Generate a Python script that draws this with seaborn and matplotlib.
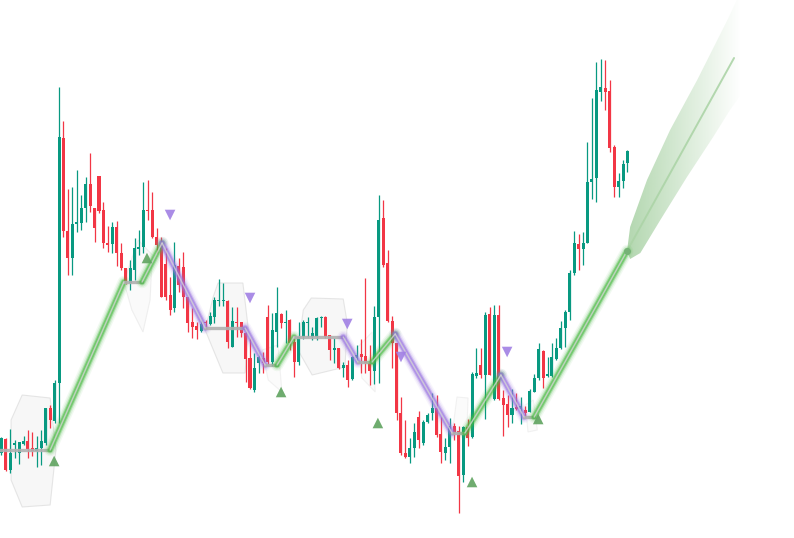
import numpy as np
import pandas as pd
import matplotlib
matplotlib.use("Agg")
import matplotlib.pyplot as plt
from matplotlib.patches import Polygon
from matplotlib.colors import to_rgb
import seaborn as sns

sns.set_theme(style="white")

# OHLC (bar index 0..141)
opens = [87, 101, 70, 95, 87, 96, 99, 92, 89, 92,
         97, 132, 119, 157, 402, 309, 282, 316, 317, 332,
         356, 332, 364, 330, 297, 296, 313, 287, 272, 257,
         270, 291, 293, 330, 330, 303, 296, 276, 245, 232,
         274, 273, 243, 218, 214, 209, 218, 216, 223, 239,
         239, 239, 193, 218, 218, 207, 182, 150, 177, 182,
         223, 178, 208, 226, 217, 220, 198, 178, 203, 217,
         203, 203, 222, 223, 205, 190, 192, 172, 175, 161,
         182, 186, 184, 177, 169, 223, 322, 277, 219, 197,
         127, 87, 83, 92, 123, 97, 118, 127, 132, 106,
         87, 93, 114, 109, 65, 113, 103, 164, 175, 165,
         226, 141, 225, 142, 136, 125, 133, 131, 130, 128,
         148, 162, 189, 164, 164, 181, 192, 212, 228, 267,
         296, 291, 297, 358, 362, 448, 452, 449, 393, 353,
         359, 377]
highs = [103, 102, 111, 100, 98, 104, 110, 108, 104, 110,
         132, 135, 160, 453, 419, 351, 353, 370, 345, 363,
         387, 332, 364, 338, 314, 318, 319, 297, 272, 280,
         302, 310, 358, 360, 348, 312, 303, 292, 263, 298,
         282, 288, 243, 232, 218, 220, 220, 228, 243, 261,
         257, 240, 233, 233, 218, 208, 202, 187, 187, 188,
         235, 227, 253, 227, 230, 221, 202, 218, 220, 223,
         213, 223, 224, 224, 205, 202, 192, 178, 180, 184,
         195, 201, 262, 195, 234, 345, 340, 290, 224, 197,
         143, 120, 102, 117, 129, 120, 127, 147, 145, 123,
         102, 122, 117, 114, 114, 121, 168, 192, 192, 228,
         233, 235, 235, 150, 145, 151, 147, 143, 134, 151,
         166, 197, 190, 183, 197, 202, 219, 230, 270, 309,
         306, 308, 398, 442, 478, 481, 480, 460, 395, 367,
         380, 390]
lows = [85, 69, 67, 82, 76, 95, 82, 84, 73, 75,
        95, 112, 117, 117, 303, 265, 265, 308, 310, 318,
        328, 298, 327, 292, 288, 287, 274, 270, 256, 250,
        260, 285, 287, 320, 302, 287, 243, 240, 225, 228,
        248, 232, 208, 202, 201, 208, 212, 215, 217, 234,
        234, 192, 193, 203, 203, 158, 151, 148, 167, 167,
        175, 174, 193, 212, 197, 190, 163, 175, 201, 203,
        200, 200, 213, 202, 180, 177, 171, 163, 153, 160,
        178, 167, 167, 155, 156, 157, 273, 218, 172, 120,
        85, 82, 77, 83, 92, 95, 117, 120, 103, 77,
        80, 77, 100, 27, 58, 94, 102, 162, 162, 121,
        165, 140, 140, 104, 113, 117, 130, 116, 123, 128,
        148, 160, 152, 163, 163, 180, 191, 193, 220, 265,
        270, 275, 297, 341, 338, 439, 430, 388, 343, 343,
        352, 368]
closes = [102, 70, 87, 97, 98, 99, 91, 89, 92, 99,
          132, 120, 157, 403, 309, 282, 316, 318, 332, 356,
          334, 312, 329, 297, 295, 313, 287, 272, 257, 272,
          292, 293, 330, 329, 303, 295, 243, 243, 230, 275,
          255, 243, 217, 213, 210, 216, 217, 224, 240, 240,
          240, 198, 219, 217, 207, 181, 152, 172, 183, 177,
          178, 210, 227, 217, 218, 197, 178, 203, 218, 218,
          207, 222, 223, 203, 190, 192, 172, 175, 160, 183,
          185, 183, 177, 169, 223, 320, 275, 219, 197, 127,
          87, 83, 92, 108, 100, 118, 125, 132, 105, 88,
          93, 114, 107, 64, 113, 102, 166, 167, 165, 225,
          165, 225, 141, 135, 125, 132, 131, 134, 127, 149,
          162, 191, 162, 166, 183, 192, 212, 228, 267, 297,
          291, 297, 358, 361, 450, 453, 448, 392, 353, 359,
          376, 389]

# zigzag pivots (bar index, price)
zz_x = [-0.5, 11.0, 27.6, 31.7, 36.2, 45.9, 54.9, 59.4, 62.1, 65.9,
        77.0, 80.3, 83.5, 88.7, 101.5, 104.4, 112.5, 117.7, 120.0, 140.9]
zz_y = [90, 90, 258, 258, 297, 212, 212, 175, 175, 203,
        203, 178, 178, 206, 107, 107, 165, 123, 123, 289]

# signal markers
buy_x = [11.9, 32.8, 63.0, 84.8, 106.0, 120.9]
buy_y = [79, 282, 148, 117, 58, 121]
sell_x = [38.0, 56.0, 77.9, 90.0, 113.9]
sell_y = [325, 242, 216, 183, 188]

# consolidation zones
zones = [
    ([4.7, 11.0, 12.3, 11.0, 4.7, 2.2, 2.2], [145, 142, 90, 35, 33, 60, 120], 0.5),
    ([27.6, 30.8, 34.0, 33.5, 31.9, 29.4], [258, 300, 285, 240, 208, 230], 0.3),
    ([48.8, 54.4, 55.6, 54.9, 49.9, 45.9, 47.7], [257, 257, 212, 167, 167, 210, 243], 0.5),
    ([69.8, 77.0, 77.9, 77.4, 70.0, 66.8, 68.0], [242, 241, 217, 173, 165, 190, 230], 0.5),
    ([58.7, 62.3, 63.2, 60.1], [190, 195, 148, 160], 0.25),
    ([80.3, 83.5, 84.2, 81.2], [193, 208, 148, 162], 0.25),
    ([102.6, 105.1, 104.8, 101.7], [143, 142, 103, 112], 0.25),
    ([118.0, 119.8, 120.7, 118.6], [135, 140, 110, 108], 0.25),
]

# projection cone
cone_up_x = [140.9, 141.6, 145.4, 150.6, 156.7, 163.5, 166.5]
cone_up_y = [289, 313, 360, 410, 460, 520, 548]
cone_lo_x = [141.6, 143.9, 148.4, 154.4, 160.3, 164.1, 166.5]
cone_lo_y = [281, 287, 320, 363, 403, 430, 445]
proj_x = [140.9, 165.0]
proj_y = [289, 482]

GREEN = "#089981"
RED = "#F23645"

df = pd.DataFrame({"open": opens, "high": highs, "low": lows, "close": closes})
df["idx"] = np.arange(len(df))
df["up"] = df["close"] >= df["open"]

fig = plt.figure(figsize=(7.94, 5.38), dpi=100)
ax = fig.add_axes([0, 0, 1, 1])
ax.set_axis_off()

# zones
for zx, zy, a in zones:
    ax.add_patch(Polygon(np.column_stack([zx, zy]), closed=True,
                         facecolor="#f0f0f0", edgecolor="#d0d0d0",
                         alpha=a, lw=0.8, zorder=1))

# candles
colors = np.where(df["up"], GREEN, RED)
ax.vlines(df["idx"], df["low"], df["high"], colors=colors, lw=0.9, zorder=3)
body_lo = np.minimum(df["open"], df["close"])
body_h = np.maximum((df["close"] - df["open"]).abs(), 1.5)
ax.bar(df["idx"], body_h, bottom=body_lo, width=0.68, color=colors,
       linewidth=0, zorder=4)

# zigzag with glow
for k in range(len(zz_x) - 1):
    xs = [zz_x[k], zz_x[k + 1]]
    ys = [zz_y[k], zz_y[k + 1]]
    dy = ys[1] - ys[0]
    if dy == 0:
        ax.plot(xs, ys, color="#b0b0b0", lw=2.4, alpha=0.9,
                solid_capstyle="round", zorder=5)
        continue
    c = "#45b83f" if dy > 0 else "#9670e0"
    for lw, a in [(9, 0.07), (7, 0.13), (5, 0.3), (3.5, 0.55)]:
        ax.plot(xs, ys, color=c, lw=lw, alpha=a, solid_capstyle="round", zorder=5)
    ax.plot(xs, ys, color="#d4d4d4", lw=1.0, alpha=0.8, zorder=6)

# signals
sns.scatterplot(x=buy_x, y=buy_y, marker="^", s=58, color="#5fa35f",
                edgecolor="none", alpha=0.9, ax=ax, zorder=7)
sns.scatterplot(x=sell_x, y=sell_y, marker="v", s=58, color="#a180e4",
                edgecolor="none", alpha=0.9, ax=ax, zorder=7)

# projection cone with fading fill
verts = np.vstack([np.column_stack([cone_up_x, cone_up_y]),
                   np.column_stack([cone_lo_x, cone_lo_y])[::-1]])
cone = Polygon(verts, closed=True, facecolor="none", edgecolor="none")
ax.add_patch(cone)
t = np.linspace(0, 1, 256)
grad = np.zeros((2, 256, 4))
grad[..., :3] = to_rgb("#7cba76")
grad[..., 3] = 0.58 * (1 - t) ** 1.0
im = ax.imshow(grad, extent=[140.9, 166.5, 280, 548], aspect="auto",
               origin="lower", interpolation="bilinear", zorder=2)
im.set_clip_path(cone)
ax.plot(proj_x, proj_y, color="#acd4a7", lw=1.4, alpha=0.9, zorder=3)
ax.plot(proj_x[:1], proj_y[:1], "o", color="#76b276", ms=4, zorder=7)

ax.set_xlim(-0.293, 178.5)
ax.set_ylim(2, 540)

fig.savefig("out.png", dpi=100, facecolor="white")
